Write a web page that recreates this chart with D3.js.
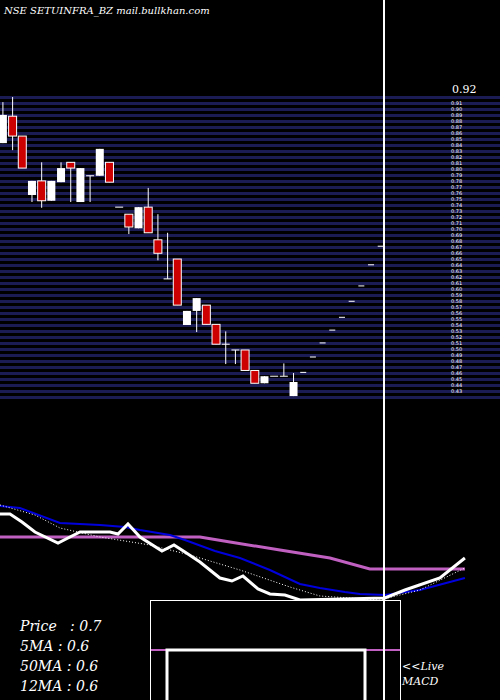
<!DOCTYPE html><html><head><script src="https://cdn.jsdelivr.net/npm/d3@7"></script>
<style>body{margin:0;background:#000}</style></head><body><script>
// candles: [open, high, low, close]
const candles=[[0.848,0.912,0.848,0.892],[0.890,0.920,0.837,0.859],[0.859,0.859,0.809,0.809],[0.767,0.789,0.756,0.789],[0.789,0.818,0.747,0.758],[0.758,0.789,0.758,0.789],[0.787,0.818,0.787,0.809],[0.818,0.818,0.756,0.809],[0.756,0.809,0.756,0.809],[0.797,0.797,0.756,0.797],[0.797,0.839,0.797,0.839],[0.818,0.818,0.787,0.787],[0.748,0.748,0.748,0.748],[0.737,0.737,0.706,0.717],[0.715,0.748,0.715,0.748],[0.748,0.778,0.708,0.708],[0.697,0.737,0.665,0.676],[0.636,0.708,0.636,0.636],[0.667,0.667,0.595,0.595],[0.564,0.586,0.564,0.586],[0.586,0.606,0.553,0.606],[0.595,0.595,0.565,0.565],[0.565,0.565,0.534,0.534],[0.534,0.554,0.503,0.534],[0.525,0.525,0.503,0.525],[0.525,0.525,0.493,0.493],[0.493,0.493,0.473,0.473],[0.473,0.484,0.473,0.484],[0.484,0.484,0.484,0.484],[0.484,0.504,0.484,0.484],[0.453,0.489,0.453,0.475]];
const forecast=[0.490,0.514,0.536,0.556,0.576,0.601,0.625,0.658,0.687];
const priceLineDays=[0,1.03,2.27,3.61,5.99,7.22,8.26,11.35,12.18,13.21,14.45,16.72,17.96,19.09,20.64,22.7,23.94,25.08,26.63,27.86,29.41,30.96,39.73,41.8,45.41,47.99];
const priceLineVals=[86,86,78,68,57,63,68,68,66,76,63,49,55,48,38,22,19,24,11,6,5,0,2,10,22,42];
const ma12Days=[0,2.06,6.19,10.32,12.9,14.45,17.54,19.09,22.19,24.77,27.86,30.96,33.02,35.6,37.15,39.73,43.34,47.99];
const ma12Vals=[94,92,77,75,73,70,65,60,49,42,30,16,12,8,6,5,10,22];
const ma50Days=[0,20.64,23.74,28.9,34.06,38.18,47.99];
const ma50Vals=[63,63,58,50,42,31,31];
const ma5Days=[0,3.61,6.19,10.32,15.48,19.61,24.77,29.93,33.02,39.22,43.34,47.99];
const ma5Vals=[95,85,72,63,55,45,30,13,4,0,10,32];
const legend=["Price   : 0.7","5MA : 0.6","50MA : 0.6","12MA : 0.6"];
const axisLabels=d3.range(50).map(i=>(0.92-i*0.01).toFixed(2));

const svg=d3.select("body").append("svg").attr("width",500).attr("height",700).style("background","#000");
const x=d3.scaleLinear().domain([0,48]).range([0,465]);
const y=d3.scaleLinear().domain([0.45,0.92]).range([398,97]);
const yl=d3.scaleLinear().domain([0,100]).range([600,500]);
svg.append("g").selectAll("rect").data(d3.range(51)).join("rect")
 .attr("x",0).attr("width",500).attr("y",d=>96+d*6).attr("height",3).attr("fill","#1c1c55");
svg.append("text").attr("x",4).attr("y",14).attr("fill","#fff").attr("font-family","DejaVu Serif").attr("font-style","italic").attr("font-size",10).text("NSE SETUINFRA_BZ mail.bullkhan.com");
svg.append("text").attr("x",452).attr("y",93).attr("fill","#fff").attr("font-family","DejaVu Serif").attr("font-size",11).text("0.92");
svg.append("g").selectAll("text").data(axisLabels.slice(1)).join("text")
 .attr("x",451).attr("y",(d,i)=>105+i*6).attr("fill","#fff").attr("font-family","DejaVu Sans").attr("font-size",5).text(d=>d);
const g=svg.append("g");
candles.forEach((c,i)=>{
 const cx=x(i+0.3),up=c[3]>=c[0];
 g.append("line").attr("x1",cx).attr("x2",cx).attr("y1",y(c[1])).attr("y2",y(c[2])).attr("stroke","#fff").attr("stroke-width",1);
 const top=y(Math.max(c[0],c[3])),h=Math.max(1,Math.abs(y(c[0])-y(c[3])));
 if(Math.abs(c[0]-c[3])<0.002) g.append("line").attr("x1",cx-4).attr("x2",cx+4).attr("y1",top).attr("y2",top).attr("stroke","#fff");
 else g.append("rect").attr("x",cx-4).attr("width",8).attr("y",top).attr("height",h).attr("fill",up?"#fff":"#cc0000").attr("stroke","#fff").attr("stroke-width",up?0:1);
});
forecast.forEach((f,i)=>{const cx=x(31+i+0.3);g.append("line").attr("x1",cx-3).attr("x2",cx+3).attr("y1",y(f)).attr("y2",y(f)).attr("stroke","#fff");});
const line=(d,v)=>d3.line().x((p,i)=>x(d[i])).y((p,i)=>yl(v[i]))(d);
svg.append("path").attr("d",line(ma50Days,ma50Vals)).attr("fill","none").attr("stroke","#c060c0").attr("stroke-width",3);
svg.append("path").attr("d",line(ma12Days,ma12Vals)).attr("fill","none").attr("stroke","#0000dd").attr("stroke-width",2);
svg.append("path").attr("d",line(ma5Days,ma5Vals)).attr("fill","none").attr("stroke","#fff").attr("stroke-width",1).attr("stroke-dasharray","1,2");
svg.append("path").attr("d",line(priceLineDays,priceLineVals)).attr("fill","none").attr("stroke","#fff").attr("stroke-width",3);
svg.append("rect").attr("x",150.5).attr("y",600.5).attr("width",250).attr("height",110).attr("fill","#000").attr("stroke","#fff");
svg.append("line").attr("x1",151).attr("x2",400).attr("y1",650).attr("y2",650).attr("stroke","#c060c0").attr("stroke-width",2);
svg.append("path").attr("d","M167,700V650H365V700").attr("fill","none").attr("stroke","#fff").attr("stroke-width",3);
svg.append("line").attr("x1",384).attr("x2",384).attr("y1",0).attr("y2",700).attr("stroke","#fff").attr("stroke-width",2);
svg.append("g").selectAll("text").data(legend).join("text").attr("x",20).attr("y",(d,i)=>631+i*20)
 .attr("fill","#fff").attr("font-family","DejaVu Serif").attr("font-style","italic").attr("font-size",14).style("white-space","pre").text(d=>d);
svg.append("text").attr("x",402).attr("y",670).attr("fill","#fff").attr("font-family","DejaVu Serif").attr("font-style","italic").attr("font-size",11).text("<<Live");
svg.append("text").attr("x",402).attr("y",685).attr("fill","#fff").attr("font-family","DejaVu Serif").attr("font-style","italic").attr("font-size",11).text("MACD");
</script></body></html>
